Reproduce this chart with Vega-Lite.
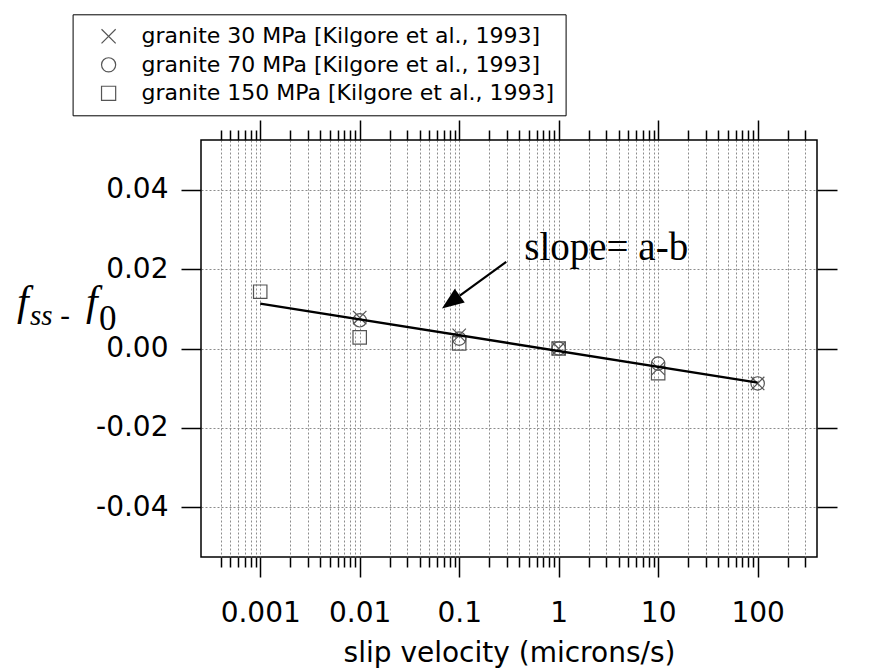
{
  "$schema": "https://vega.github.io/schema/vega-lite/v6.json",
  "width": 616,
  "height": 417,
  "autosize": {"type": "none"},
  "padding": {"left": 201, "top": 140, "right": 67, "bottom": 113},
  "background": "white",
  "datasets": {
    "points": [
      {"series": "granite 30 MPa [Kilgore et al., 1993]", "v": 0.01, "f": 0.0078},
      {"series": "granite 30 MPa [Kilgore et al., 1993]", "v": 0.1, "f": 0.0033},
      {"series": "granite 30 MPa [Kilgore et al., 1993]", "v": 1, "f": 0.0},
      {"series": "granite 30 MPa [Kilgore et al., 1993]", "v": 10, "f": -0.005},
      {"series": "granite 30 MPa [Kilgore et al., 1993]", "v": 100, "f": -0.0088},
      {"series": "granite 70 MPa [Kilgore et al., 1993]", "v": 0.01, "f": 0.0071},
      {"series": "granite 70 MPa [Kilgore et al., 1993]", "v": 0.1, "f": 0.0025},
      {"series": "granite 70 MPa [Kilgore et al., 1993]", "v": 1, "f": 0.0},
      {"series": "granite 70 MPa [Kilgore et al., 1993]", "v": 10, "f": -0.0038},
      {"series": "granite 70 MPa [Kilgore et al., 1993]", "v": 100, "f": -0.0088},
      {"series": "granite 150 MPa [Kilgore et al., 1993]", "v": 0.001, "f": 0.0143},
      {"series": "granite 150 MPa [Kilgore et al., 1993]", "v": 0.01, "f": 0.0028},
      {"series": "granite 150 MPa [Kilgore et al., 1993]", "v": 0.1, "f": 0.0013},
      {"series": "granite 150 MPa [Kilgore et al., 1993]", "v": 1, "f": 0.0},
      {"series": "granite 150 MPa [Kilgore et al., 1993]", "v": 10, "f": -0.0062}
    ],
    "fit": [
      {"v": 0.001, "f": 0.0113},
      {"v": 100, "f": -0.0086}
    ]
  },
  "config": {
    "view": {"stroke": "black", "strokeWidth": 1.5},
    "axis": {
      "domain": false,
      "tickColor": "black",
      "tickWidth": 1.5,
      "labelFont": "DejaVu Sans",
      "labelFontSize": 28,
      "labelColor": "black",
      "titleFont": "DejaVu Sans",
      "titleFontSize": 28,
      "titleFontWeight": "normal",
      "titleColor": "black",
      "gridColor": "#8c8c8c",
      "gridDash": [2, 2],
      "gridWidth": 1,
      "gridOpacity": 1
    }
  },
  "resolve": {"axis": {"x": "independent", "y": "independent"}},
  "layer": [
    {
      "data": {"name": "points"},
      "mark": {"type": "point", "filled": false, "color": "#555555", "strokeWidth": 1.2, "size": 180, "opacity": 1},
      "encoding": {
        "x": {
          "field": "v", "type": "quantitative",
          "scale": {"type": "log", "domain": [0.000254, 395]},
          "axis": {
            "orient": "bottom",
            "values": [0.0004,0.0005,0.0006,0.0007,0.0008,0.0009,0.001,0.002,0.003,0.004,0.005,0.006,0.007,0.008,0.009,0.01,0.02,0.03,0.04,0.05,0.06,0.07,0.08,0.09,0.1,0.2,0.3,0.4,0.5,0.6,0.7,0.8,0.9,1,2,3,4,5,6,7,8,9,10,20,30,40,50,60,70,80,90,100,200,300],
            "format": "~g",
            "labelExpr": "indexof([0.001,0.01,0.1,1,10,100], datum.value) >= 0 ? datum.label : ''",
            "tickSize": {"condition": {"test": "indexof([0.001,0.01,0.1,1,10,100], datum.value) >= 0", "value": 20}, "value": 10},
            "grid": true,
            "labelPadding": 22,
            "labelOverlap": false,
            "labelFlush": false,
            "title": "slip velocity (microns/s)",
            "titlePadding": 12
          }
        },
        "y": {
          "field": "f", "type": "quantitative",
          "scale": {"domain": [-0.0525, 0.0525], "nice": false, "zero": false},
          "axis": {
            "orient": "left",
            "values": [-0.04, -0.02, 0, 0.02, 0.04],
            "labelExpr": "(datum.value < 0 ? '-' : '') + format(abs(datum.value), '.2f')",
            "tickSize": 20,
            "labelPadding": 13,
            "grid": true,
            "title": null
          }
        },
        "shape": {
          "field": "series", "type": "nominal",
          "scale": {
            "domain": ["granite 30 MPa [Kilgore et al., 1993]", "granite 70 MPa [Kilgore et al., 1993]", "granite 150 MPa [Kilgore et al., 1993]"],
            "range": ["M-1,-1L1,1M-1,1L1,-1", "circle", "square"]
          },
          "legend": {
            "orient": "none",
            "legendX": -128.4,
            "legendY": -125.7,
            "title": null,
            "strokeColor": "black",
            "fillColor": "white",
            "padding": 11,
            "symbolOffset": 14,
            "labelOffset": 22,
            "rowPadding": 6.5,
            "labelFont": "DejaVu Sans",
            "labelFontSize": 22,
            "labelColor": "black",
            "labelLimit": 0,
            "symbolSize": 200,
            "symbolStrokeColor": "#555555",
            "symbolFillColor": "transparent",
            "symbolStrokeWidth": 1.2
          }
        }
      }
    },
    {
      "data": {"name": "fit"},
      "mark": {"type": "line", "color": "black", "strokeWidth": 2.4},
      "encoding": {
        "x": {
          "field": "v", "type": "quantitative",
          "scale": {"type": "log", "domain": [0.000254, 395]},
          "axis": {
            "orient": "top",
            "values": [0.0004,0.0005,0.0006,0.0007,0.0008,0.0009,0.001,0.002,0.003,0.004,0.005,0.006,0.007,0.008,0.009,0.01,0.02,0.03,0.04,0.05,0.06,0.07,0.08,0.09,0.1,0.2,0.3,0.4,0.5,0.6,0.7,0.8,0.9,1,2,3,4,5,6,7,8,9,10,20,30,40,50,60,70,80,90,100,200,300],
            "labels": false,
            "tickSize": {"condition": {"test": "indexof([0.001,0.01,0.1,1,10,100], datum.value) >= 0", "value": 20}, "value": 10},
            "grid": false,
            "title": null
          }
        },
        "y": {
          "field": "f", "type": "quantitative",
          "scale": {"domain": [-0.0525, 0.0525], "nice": false, "zero": false},
          "axis": {
            "orient": "right",
            "values": [-0.04, -0.02, 0, 0.02, 0.04],
            "labels": false,
            "tickSize": 20,
            "grid": false,
            "title": null
          }
        }
      }
    },
    {
      "data": {"values": [{}]},
      "mark": {"type": "rule", "color": "black", "strokeWidth": 2.2},
      "encoding": {
        "x": {"datum": 0.297, "type": "quantitative", "scale": {"type": "log", "domain": [0.000254, 395]}, "axis": null},
        "y": {"datum": 0.0218, "type": "quantitative", "scale": {"domain": [-0.0525, 0.0525], "nice": false, "zero": false}, "axis": null},
        "x2": {"datum": 0.1014},
        "y2": {"datum": 0.0133}
      }
    },
    {
      "data": {"values": [{}]},
      "mark": {"type": "point", "shape": "M0,-1L-0.77,1L0.77,1Z", "filled": true, "color": "black", "opacity": 1, "size": 484, "angle": 234, "strokeWidth": 0},
      "encoding": {
        "x": {"datum": 0.08245, "type": "quantitative", "scale": {"type": "log", "domain": [0.000254, 395]}, "axis": null},
        "y": {"datum": 0.01171, "type": "quantitative", "scale": {"domain": [-0.0525, 0.0525], "nice": false, "zero": false}, "axis": null}
      }
    },
    {
      "data": {"values": [{}]},
      "mark": {"type": "text", "text": "slope= a-b", "font": "Liberation Serif", "fontSize": 39, "color": "black", "align": "left", "baseline": "alphabetic"},
      "encoding": {
        "x": {"datum": 0.4512, "type": "quantitative", "scale": {"type": "log", "domain": [0.000254, 395]}, "axis": null},
        "y": {"datum": 0.02224, "type": "quantitative", "scale": {"domain": [-0.0525, 0.0525], "nice": false, "zero": false}, "axis": null}
      }
    },
    {
      "data": {"values": [{}]},
      "mark": {"type": "text", "text": "f", "font": "Liberation Serif", "fontStyle": "italic", "fontSize": 42, "color": "black", "align": "left", "baseline": "alphabetic", "dx": -184, "dy": -34},
      "encoding": {
        "x": {"datum": 0.000254, "type": "quantitative", "scale": {"type": "log", "domain": [0.000254, 395]}, "axis": null},
        "y": {"datum": 0, "type": "quantitative", "scale": {"domain": [-0.0525, 0.0525], "nice": false, "zero": false}, "axis": null}
      }
    },
    {
      "data": {"values": [{}]},
      "mark": {"type": "text", "text": "ss", "font": "Liberation Serif", "fontStyle": "italic", "fontSize": 29, "color": "black", "align": "left", "baseline": "alphabetic", "dx": -171, "dy": -23.3},
      "encoding": {
        "x": {"datum": 0.000254, "type": "quantitative", "scale": {"type": "log", "domain": [0.000254, 395]}, "axis": null},
        "y": {"datum": 0, "type": "quantitative", "scale": {"domain": [-0.0525, 0.0525], "nice": false, "zero": false}, "axis": null}
      }
    },
    {
      "data": {"values": [{}]},
      "mark": {"type": "text", "text": "-", "font": "Liberation Serif", "fontSize": 29, "color": "black", "align": "left", "baseline": "alphabetic", "dx": -140.7, "dy": -23.3},
      "encoding": {
        "x": {"datum": 0.000254, "type": "quantitative", "scale": {"type": "log", "domain": [0.000254, 395]}, "axis": null},
        "y": {"datum": 0, "type": "quantitative", "scale": {"domain": [-0.0525, 0.0525], "nice": false, "zero": false}, "axis": null}
      }
    },
    {
      "data": {"values": [{}]},
      "mark": {"type": "text", "text": "f", "font": "Liberation Serif", "fontStyle": "italic", "fontSize": 42, "color": "black", "align": "left", "baseline": "alphabetic", "dx": -115, "dy": -34},
      "encoding": {
        "x": {"datum": 0.000254, "type": "quantitative", "scale": {"type": "log", "domain": [0.000254, 395]}, "axis": null},
        "y": {"datum": 0, "type": "quantitative", "scale": {"domain": [-0.0525, 0.0525], "nice": false, "zero": false}, "axis": null}
      }
    },
    {
      "data": {"values": [{}]},
      "mark": {"type": "text", "text": "0", "font": "Liberation Serif", "fontSize": 35, "color": "black", "align": "left", "baseline": "alphabetic", "dx": -102, "dy": -19},
      "encoding": {
        "x": {"datum": 0.000254, "type": "quantitative", "scale": {"type": "log", "domain": [0.000254, 395]}, "axis": null},
        "y": {"datum": 0, "type": "quantitative", "scale": {"domain": [-0.0525, 0.0525], "nice": false, "zero": false}, "axis": null}
      }
    }
  ]
}
